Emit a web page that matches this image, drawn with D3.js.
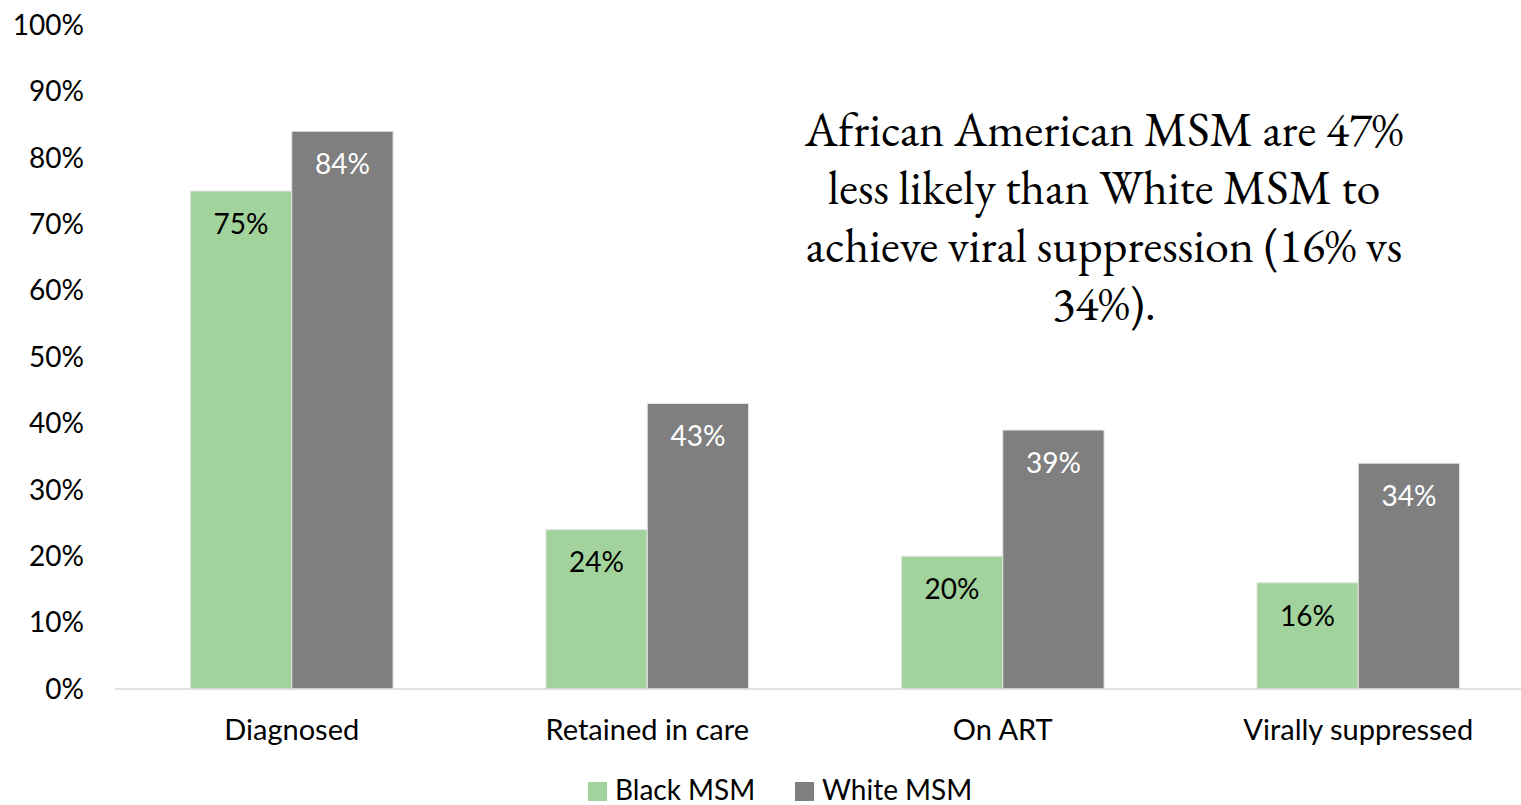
<!DOCTYPE html>
<html><head><meta charset="utf-8">
<script src="https://cdn.jsdelivr.net/npm/d3@7"></script>
<style>body{margin:0;background:#fff;} svg{display:block;}</style>
</head><body>
<script>
const categories = ["Diagnosed", "Retained in care", "On ART", "Virally suppressed"];
const seriesNames = ["Black MSM", "White MSM"];
const blackMSM = [75, 24, 20, 16];
const whiteMSM = [84, 43, 39, 34];
const yTicks = [0, 10, 20, 30, 40, 50, 60, 70, 80, 90, 100];
const annotationLines = ["African American MSM are 47%", "less likely than White MSM to", "achieve viral suppression (16% vs", "34%)."];
const colors = ["#A2D39C", "#7F7F7F"];
const labelColors = ["#000000", "#FFFFFF"];

const W = 1521, H = 805;
const font = "Lato, 'Open Sans', sans-serif";
const svg = d3.select("body").append("svg").attr("width", W).attr("height", H);

const y = d3.scaleLinear().domain([0, 100]).range([689, 25]);
const x0 = d3.scaleBand().domain(categories).range([114, 1536]).paddingInner(0.43).paddingOuter(0.215);
const x1 = d3.scaleBand().domain(seriesNames).range([0, x0.bandwidth()]);

svg.append("g").selectAll("text").data(yTicks).join("text")
  .attr("x", 84).attr("y", d => y(d)).attr("dy", "0.35em")
  .attr("text-anchor", "end").attr("font-family", font).attr("font-size", 28)
  .attr("fill", "#000").text(d => d + "%");

const data = categories.map((c, i) => ({cat: c, vals: [blackMSM[i], whiteMSM[i]]}));

const groups = svg.append("g").selectAll("g").data(data).join("g")
  .attr("transform", d => `translate(${x0(d.cat)},0)`);

groups.selectAll("rect").data(d => d.vals.map((v, j) => ({s: seriesNames[j], v, j}))).join("rect")
  .attr("x", d => x1(d.s)).attr("width", x1.bandwidth())
  .attr("y", d => y(d.v)).attr("height", d => y(0) - y(d.v))
  .attr("fill", d => colors[d.j]).attr("stroke", "#e6e6e6").attr("stroke-width", 1);

groups.selectAll("text").data(d => d.vals.map((v, j) => ({s: seriesNames[j], v, j}))).join("text")
  .attr("x", d => x1(d.s) + x1.bandwidth() / 2).attr("y", d => y(d.v) + 33).attr("dy", "0.35em")
  .attr("text-anchor", "middle").attr("font-family", font).attr("font-size", 28)
  .attr("fill", d => labelColors[d.j]).text(d => d.v + "%");

const xAxis = svg.append("g").attr("transform", `translate(0,${y(0)})`);
xAxis.append("line").attr("x1", 115).attr("x2", W).attr("y1", 0).attr("y2", 0)
  .attr("stroke", "#d9d9d9").attr("stroke-width", 1.5);
xAxis.selectAll("text").data(categories).join("text")
  .attr("x", d => x0(d) + x0.bandwidth() / 2).attr("y", 41).attr("dy", "0.35em")
  .attr("text-anchor", "middle").attr("font-family", font).attr("font-size", 29)
  .attr("fill", "#000").text(d => d);

const legendX = [588, 795];
const lg = svg.append("g");
seriesNames.forEach((s, i) => {
  lg.append("rect").attr("x", legendX[i]).attr("y", 782).attr("width", 19).attr("height", 19).attr("fill", colors[i]);
  lg.append("text").attr("x", legendX[i] + 27).attr("y", 800)
    .attr("font-family", font).attr("font-size", 28).attr("fill", "#000").text(s);
});

svg.append("g").selectAll("text").data(annotationLines).join("text")
  .attr("x", 1104).attr("y", (d, i) => 146 + i * 58)
  .attr("text-anchor", "middle").attr("font-family", "'EB Garamond', Garamond, 'Liberation Serif', serif")
  .attr("font-size", 48).attr("fill", "#000").text(d => d);
</script>
</body></html>
